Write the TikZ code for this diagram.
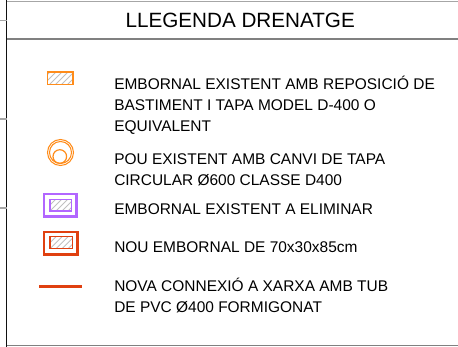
\documentclass[tikz,border=0pt]{standalone}
\usepackage{fontspec}
\setmainfont{Liberation Sans}
\definecolor{frameblack}{HTML}{111111}
\definecolor{ruleA}{HTML}{A6A6A6}
\definecolor{ruleB}{HTML}{808080}
\definecolor{symorange}{HTML}{FF8C1A}
\definecolor{sympurple}{HTML}{B266FF}
\definecolor{symred}{HTML}{E04010}
\definecolor{hatchgray}{HTML}{C0C0C0}
\tikzset{
  legtext/.style={anchor=base west, inner sep=0pt, font=\fontsize{11.6pt}{14pt}\selectfont, text=black},
  titletext/.style={anchor=base, inner sep=0pt, font=\fontsize{15.5pt}{18pt}\selectfont, text=black},
  hatchline/.style={draw=hatchgray, line width=0.6pt},
}
\begin{document}
\begin{tikzpicture}[x=0.75pt,y=-0.75pt]
\useasboundingbox (0,0) rectangle (458,347);
% frame
\draw[ruleA, line width=1pt] (6.5,1.5) -- (458,1.5);
\draw[ruleB, line width=1.3pt] (6.5,39) -- (458,39);
\draw[ruleB, line width=1pt] (6.5,345.5) -- (458,345.5);
\draw[frameblack, line width=1pt] (6.5,0) -- (6.5,346.5);
\draw[ruleA, line width=0.8pt] (0,20.5) -- (6.5,20.5);
\draw[ruleA, line width=0.8pt] (0,119) -- (6.5,119);
\draw[ruleA, line width=0.8pt] (0,208) -- (6.5,208);
% title
\node[titletext] (title) at (240.2,27.3) {LLEGENDA DRENATGE};
% symbol 1: hatched orange rectangle
\begin{scope}
\clip (47.5,72) rectangle (73,84.5);
\foreach \i in {-10,-4,...,30} {\draw[hatchline] (47.5+\i,84.5) -- ++(12.5,-12.5);}
\end{scope}
\draw[symorange, line width=0.9pt] (47.5,72) rectangle (73,84.5);
% symbol 2: manhole
\draw[symorange, line width=0.8pt] (60.5,152.5) circle [radius=13];
\draw[symorange, line width=0.8pt] (60.5,152.5) circle [radius=11];
\draw[symorange, line width=0.9pt] (59.8,156.5) circle [radius=6.8];
% symbol 3: purple
\draw[sympurple, line width=2pt] (44,194) rectangle (76.7,216.7);
\begin{scope}
\clip (50,199.3) rectangle (71.7,211);
\foreach \i in {-12,-6,...,24} {\draw[hatchline] (50+\i,211) -- ++(11.7,-11.7);}
\end{scope}
\draw[sympurple, line width=0.8pt] (50,199.3) rectangle (71.7,211);
% symbol 4: red
\draw[symred, line width=2pt] (44,232) rectangle (77.3,254.7);
\begin{scope}
\clip (50,236.7) rectangle (72.3,248.7);
\foreach \i in {-12,-6,...,24} {\draw[hatchline] (50+\i,248.7) -- ++(12,-12);}
\end{scope}
\draw[symred, line width=0.8pt] (50,236.7) rectangle (72.3,248.7);
% symbol 5: line
\coordinate (la) at (39,286.3);
\coordinate (lb) at (82.3,286.3);
\draw[symred, line width=2.7pt] (la) -- (lb);
% texts
\node[legtext] (t1a) at (114,89) {EMBORNAL EXISTENT AMB REPOSICIÓ DE};
\node[legtext] (t1b) at (114,110.3) {BASTIMENT I TAPA MODEL D-400 O};
\node[legtext] (t1c) at (114,131.5) {EQUIVALENT};
\node[legtext] (t2a) at (114,164.3) {POU EXISTENT AMB CANVI DE TAPA};
\node[legtext] (t2b) at (114,185) {CIRCULAR Ø600 CLASSE D400};
\node[legtext] (t3a) at (114,214) {EMBORNAL EXISTENT A ELIMINAR};
\node[legtext] (t4a) at (114,252.3) {NOU EMBORNAL DE 70x30x85cm};
\node[legtext] (t5a) at (114,291.5) {NOVA CONNEXIÓ A XARXA AMB TUB};
\node[legtext] (t5b) at (114,312) {DE PVC Ø400 FORMIGONAT};
\end{tikzpicture}
\end{document}
